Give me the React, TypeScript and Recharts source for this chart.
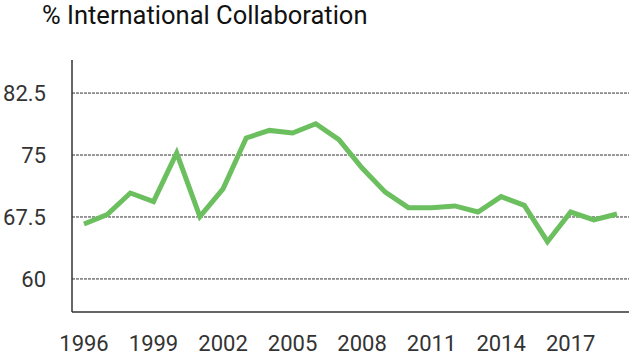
import { CartesianGrid, Line, LineChart, XAxis, YAxis } from "recharts";

const years = [
  "1996", "1997", "1998", "1999", "2000", "2001", "2002", "2003", "2004", "2005", "2006", "2007",
  "2008", "2009", "2010", "2011", "2012", "2013", "2014", "2015", "2016", "2017", "2018", "2019",
];
const collaboration = [
  66.65, 67.8, 70.4, 69.35, 75.24, 67.54, 70.9, 77.06, 77.98, 77.66, 78.79, 76.85,
  73.43, 70.5, 68.63, 68.63, 68.84, 68.1, 69.96, 68.9, 64.51, 68.1, 67.14, 67.86,
];
const yTicks = [60, 67.5, 75, 82.5];

export default function App() {
  const data = years.map((year, i) => ({ year, value: collaboration[i] }));
  return (
    <div style={{ position: "fixed", top: 0, left: 0, width: 640, height: 364, background: "#fff", fontFamily: "Roboto" }}>
      <div style={{ position: "absolute", left: 42, top: 0, fontSize: 25.5, color: "#111", whiteSpace: "nowrap" }}>
        % International Collaboration
      </div>
      <LineChart width={640} height={364} data={data} margin={{ top: 60, right: 11, left: 0, bottom: 0 }}>
        <CartesianGrid vertical={false} horizontalValues={yTicks} strokeDasharray="3 1" stroke="#333" />
        <XAxis
          dataKey="year"
          interval={2}
          height={52}
          padding={{ left: 12, right: 12 }}
          tickLine={false}
          tickSize={0}
          tickMargin={23}
          axisLine={{ stroke: "#333", strokeWidth: 1.5 }}
          tick={{ fill: "#333", fontSize: 22, fontFamily: "Roboto" }}
        />
        <YAxis
          width={72}
          domain={[56, 86.5]}
          ticks={yTicks}
          tickLine={false}
          tickSize={0}
          tickMargin={26}
          axisLine={{ stroke: "#333", strokeWidth: 1.5 }}
          tick={{ fill: "#333", fontSize: 22, fontFamily: "Roboto" }}
        />
        <Line
          type="linear"
          dataKey="value"
          stroke="#6cbf5f"
          strokeWidth={5}
          dot={false}
          isAnimationActive={false}
        />
      </LineChart>
    </div>
  );
}
